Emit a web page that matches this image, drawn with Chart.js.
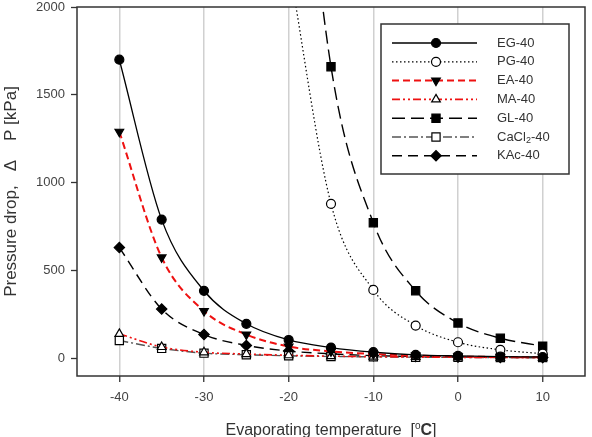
<!DOCTYPE html>
<html><head><meta charset="utf-8">
<script src="https://cdn.jsdelivr.net/npm/chart.js@4/dist/chart.umd.min.js"></script>
<style>html,body{margin:0;padding:0;background:#fff}</style></head>
<body>
<canvas id="c" width="592" height="437" style="width:592px;height:437px;display:block"></canvas>
<script>
const temps = [-40,-35,-30,-25,-20,-15,-10,-5,0,5,10];
const eg    = [1700,790,385,197,105,62,36,20,14,10,8];
const pg    = [null,null,null,null,2250,880,390,187,92,49,27];
const ea    = [1290,575,270,136,68,40,25,16,11,8,6];
const ma    = [140,65,35,25,18,13,10,8,6,5,5];
const gl    = [null,null,null,null,3800,1660,772,385,202,115,70];
const cacl2 = [102,57,30,21,15,11,9,7,6,5,5];
const kac   = [631,281,136,74,42,26,16,11,8,6,5];
const seriesNames = ['EG-40','PG-40','EA-40','MA-40','GL-40','CaCl2-40','KAc-40'];
const xTicks = [-40,-30,-20,-10,0,10];
const yTicks = [0,500,1000,1500,2000];

const pts = arr => temps.map((t,i)=>({x:t,y:arr[i]}));
const FONT = "'Liberation Sans', Arial, sans-serif";

function ds(label, arr, o){
  return Object.assign({
    label, data: pts(arr), borderColor:'#000', borderWidth:1.3, borderDash:[],
    pointStyle:'circle', pointRadius:4.5, pointHoverRadius:4.5, pointBorderWidth:1.2,
    pointBackgroundColor:'#000', pointBorderColor:'#000', pointRotation:0,
    cubicInterpolationMode:'monotone', fill:false, spanGaps:false
  }, o);
}

const datasets = [
  ds(seriesNames[0], eg, {}),
  ds(seriesNames[1], pg, {borderDash:[1.5,2.5], borderWidth:1.2, pointBackgroundColor:'#fff'}),
  ds(seriesNames[2], ea, {borderColor:'#ee1111', borderWidth:2, borderDash:[7,4], pointStyle:'triangle', pointRotation:180, pointRadius:5}),
  ds(seriesNames[3], ma, {borderColor:'#ee1111', borderWidth:1.6, borderDash:[8,3,2,3,2,3], pointStyle:'triangle', pointRadius:5, pointBackgroundColor:'#fff'}),
  ds(seriesNames[4], gl, {borderDash:[13,6], borderWidth:1.4, pointStyle:'rect', pointRadius:5.8}),
  ds(seriesNames[5], cacl2, {borderColor:'#555', borderWidth:1.4, borderDash:[9,3,2,3], pointStyle:'rect', pointRadius:5.8, pointBackgroundColor:'#fff'}),
  ds(seriesNames[6], kac, {borderDash:[10,6], borderWidth:1.4, pointStyle:'rectRot', pointRadius:5.2}),
];

function drawMarker(ctx, d, x, y){
  ctx.save();
  ctx.fillStyle = d.pointBackgroundColor; ctx.strokeStyle = d.pointBorderColor;
  ctx.lineWidth = d.pointBorderWidth; ctx.setLineDash([]);
  Chart.helpers.drawPoint(ctx, {pointStyle:d.pointStyle, rotation:d.pointRotation, radius:d.pointRadius, borderWidth:d.pointBorderWidth}, x, y);
  ctx.restore();
}

const framePlugin = {
  id:'frame',
  afterDatasetsDraw(chart){
    const {ctx, chartArea:a} = chart;
    ctx.save(); ctx.strokeStyle='#333'; ctx.lineWidth=1.5; ctx.setLineDash([]);
    ctx.strokeRect(a.left, a.top, a.right-a.left, a.bottom-a.top);
    ctx.restore();
  }
};

const xTitlePlugin = {
  id:'xTitle',
  afterDraw(chart){
    const {ctx, chartArea:a} = chart;
    const parts = [
      {t:'Evaporating temperature  [', f:"16px "+FONT, dy:0},
      {t:'o', f:"10px "+FONT, dy:-6},
      {t:'C', f:"bold 16px "+FONT, dy:0},
      {t:']', f:"16px "+FONT, dy:0}
    ];
    ctx.save();
    ctx.fillStyle='#333'; ctx.textBaseline='alphabetic'; ctx.textAlign='left';
    let w=0; parts.forEach(p=>{ctx.font=p.f; p.w=ctx.measureText(p.t).width; w+=p.w;});
    let x=(a.left+a.right)/2 - w/2; const base = chart.height - 2.5;
    parts.forEach(p=>{ctx.font=p.f; ctx.fillText(p.t,x,base+p.dy); x+=p.w;});
    ctx.restore();
  }
};

const legendPlugin = {
  id:'boxLegend',
  afterDraw(chart){
    const {ctx, chartArea:a} = chart;
    const bw=188, bh=150;
    const bx=a.right-16-bw, by=a.top+17;
    ctx.save();
    ctx.fillStyle='#fff'; ctx.fillRect(bx,by,bw,bh);
    ctx.strokeStyle='#333'; ctx.lineWidth=1.5; ctx.strokeRect(bx,by,bw,bh);
    chart.data.datasets.forEach((d,i)=>{
      const y = by + 19 + i*18.8;
      ctx.save();
      ctx.strokeStyle=d.borderColor; ctx.lineWidth=d.borderWidth; ctx.setLineDash(d.borderDash);
      ctx.beginPath(); ctx.moveTo(bx+11,y); ctx.lineTo(bx+96,y); ctx.stroke();
      ctx.restore();
      drawMarker(ctx, d, bx+55, y);
      ctx.fillStyle='#333'; ctx.textBaseline='middle'; ctx.textAlign='left';
      ctx.font = "13px "+FONT;
      let tx = bx+116;
      if (d.label === 'CaCl2-40'){
        ctx.fillText('CaCl', tx, y); tx += ctx.measureText('CaCl').width;
        ctx.font = "9px "+FONT; ctx.fillText('2', tx, y+4); tx += ctx.measureText('2').width;
        ctx.font = "13px "+FONT; ctx.fillText('-40', tx, y);
      } else ctx.fillText(d.label, tx, y);
    });
    ctx.restore();
  }
};

new Chart(document.getElementById('c'), {
  type:'line',
  data:{datasets},
  options:{
    responsive:false, animation:false, devicePixelRatio:1,
    layout:{padding:{top:5, right:7, left:0, bottom:0}},
    plugins:{legend:{display:false}, tooltip:{enabled:false}},
    scales:{
      x:{
        type:'linear', min:-45, max:15,
        afterBuildTicks(s){ s.ticks = xTicks.map(v=>({value:v})); },
        afterFit(s){ s.height = 61; s.paddingLeft = 0; s.paddingRight = 0; },
        grid:{color:'#d0d0d0', lineWidth:1.5, tickLength:6, tickColor:'#333', tickWidth:1.3},
        border:{display:false},
        ticks:{color:'#444', font:{family:FONT, size:13}, padding:8, callback:v=>String(v)},
        title:{display:false}
      },
      y:{
        min:-100, max:2000,
        afterBuildTicks(s){ s.ticks = yTicks.map(v=>({value:v})); },
        afterFit(s){ s.width = 77; s.paddingTop = 0; s.paddingBottom = 0; },
        grid:{drawOnChartArea:false, tickLength:6, tickColor:'#333', tickWidth:1.3},
        border:{display:false},
        ticks:{color:'#444', font:{family:FONT, size:13}, padding:6, callback:v=>String(v)},
        title:{display:true, text:'Pressure drop,   Δ    P [kPa]', color:'#333', font:{family:FONT, size:17}, padding:{top:1,bottom:0}}
      }
    }
  },
  plugins:[framePlugin, legendPlugin, xTitlePlugin]
});
</script>
</body></html>
